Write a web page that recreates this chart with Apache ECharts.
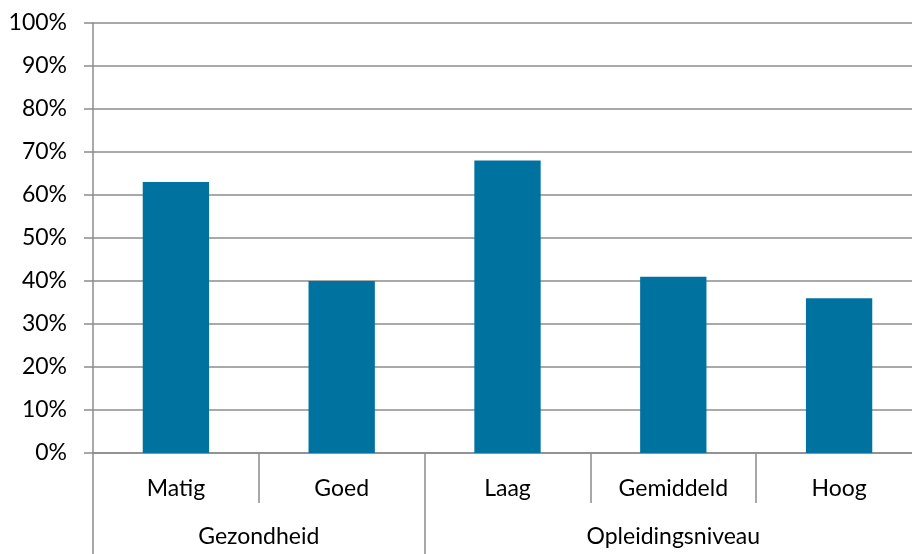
<!DOCTYPE html>
<html>
<head>
<meta charset="utf-8">
<script src="https://cdn.jsdelivr.net/npm/echarts@6/dist/echarts.min.js"></script>
<style>
html,body{margin:0;padding:0;background:#fff;overflow:hidden;width:912px;height:554px;}
/* het plotvlak loopt rechts iets buiten het beeld door */
#chartmain{width:922px;height:554px;}
</style>
</head>
<body>
<div id="chartmain"></div>
<script>
// eerste niveau: categorieen en percentages
var categories=['Matig','Goed','Laag','Gemiddeld','Hoog'];
var values=[63,40,68,41,36];
// tweede niveau: groepen, met start- en eindpositie in categorieen
var groupNames=['Gezondheid','Opleidingsniveau'];
var groupStart=[0,2];
var groupEnd=[2,5];

var grey='#8c8c8c';
var fontName='Lato, "Open Sans", sans-serif';
var fontSize=23;

function groupMids() {
	var res=[];
	for(var i=0;i<groupNames.length;i++) res.push((groupStart[i]+groupEnd[i])/2);
	return res;
}
function groupBounds() {
	var res=[groupStart[0]];
	for(var i=0;i<groupEnd.length;i++) res.push(groupEnd[i]);
	return res;
}

var myChart=echarts.init(document.getElementById("chartmain"));
var mids=groupMids();
option={
	animation:false,
	grid:{left:93,right:0,top:23,bottom:101},
	xAxis:[{
		type:'category',
		position:'bottom',
		data:categories,
		axisLine:{lineStyle:{color:grey,width:1.5}},
		axisTick:{show:true,interval:0,length:50,alignWithLabel:false,lineStyle:{color:grey,width:1.5}},
		axisLabel:{interval:0,margin:24,color:'#000',fontSize:fontSize,fontFamily:fontName},
		splitLine:{show:false}
	},{
		type:'value',
		position:'bottom',
		min:0,
		max:categories.length,
		axisLine:{show:false},
		axisTick:{show:true,customValues:groupBounds(),length:101,lineStyle:{color:grey,width:1.5}},
		axisLabel:{
			customValues:mids,
			margin:72,color:'#000',fontSize:fontSize,fontFamily:fontName,
			formatter:function(value){
				for(var i=0;i<mids.length;i++) if(Math.abs(mids[i]-value)<0.01) return groupNames[i];
				return '';
			}
		},
		splitLine:{show:false}
	}],
	yAxis:[{
		type:'value',
		min:0,max:100,interval:10,
		axisLine:{show:true,lineStyle:{color:grey,width:1.5}},
		axisTick:{show:true,length:9,lineStyle:{color:grey,width:1.5}},
		axisLabel:{formatter:'{value}%',margin:26,color:'#000',fontSize:fontSize,fontFamily:fontName},
		splitLine:{show:true,lineStyle:{color:grey,width:1.5}}
	}],
	series:[{
		type:'bar',
		xAxisIndex:0,
		barWidth:'40%',
		itemStyle:{color:'#0072a0'},
		data:values
	}]
};
myChart.setOption(option);
</script>
</body>
</html>
